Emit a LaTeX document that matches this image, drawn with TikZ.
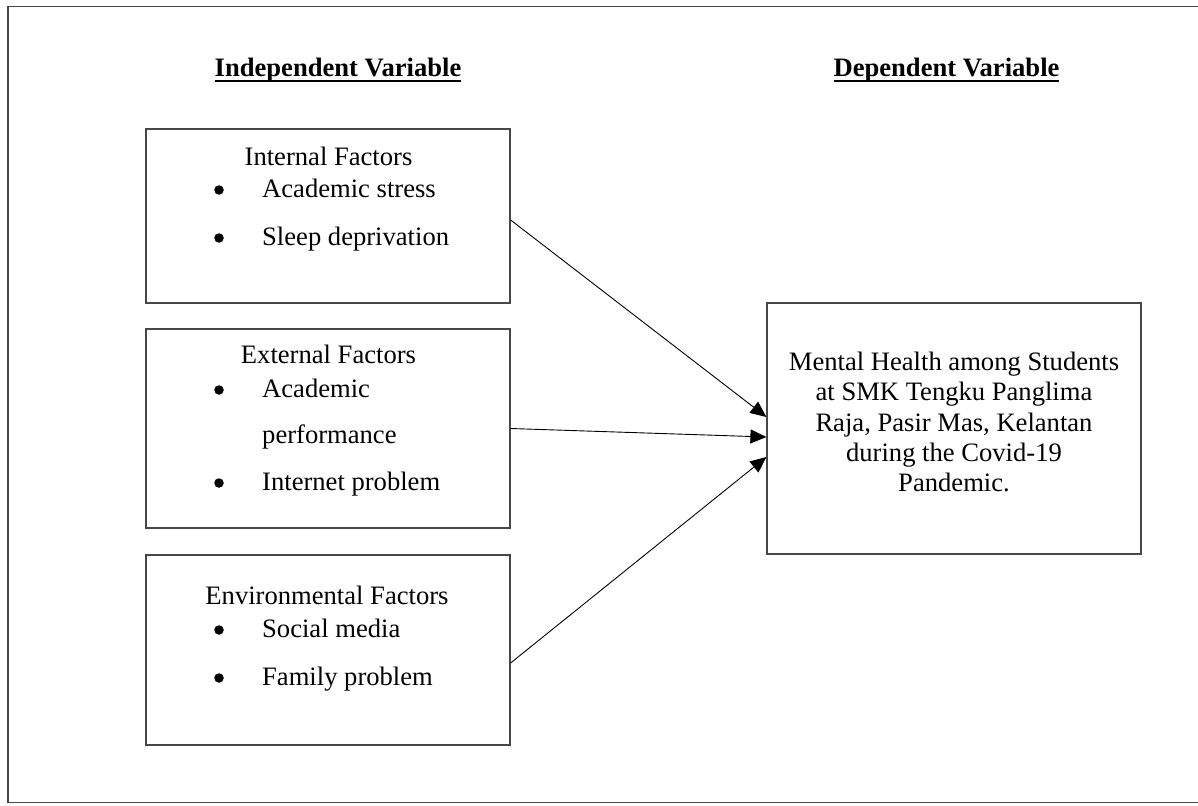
\documentclass[tikz,border=0pt]{standalone}
\usepackage{fontspec}
\setmainfont{Liberation Serif}
\usetikzlibrary{arrows.meta}

% bold heading with a heavy underline placed just under the baseline
\newcommand\headbar[1]{\setbox0\hbox{\bfseries #1}\rlap{\rule[-5pt]{\wd0}{2.3pt}}\box0}

\tikzset{
  txt/.style={font=\fontsize{26.6}{30.4}\selectfont, inner sep=0pt},
  dot/.style={circle, fill=black, inner sep=0pt, minimum size=9.5pt},
  factorbox/.style={draw=black!72, line width=1.2pt, minimum width=364pt, inner sep=0pt},
  frameline/.style={draw=black!72, line width=1.5pt},
  link/.style={draw=black, line width=0.9pt, -{Triangle[length=16pt,width=14pt]}},
}

\begin{document}
\begin{tikzpicture}[x=1pt,y=-1pt]
\useasboundingbox (0,0) rectangle (1198,805);
\fill[white] (0,0) rectangle (1198,805);

% outer frame
\draw[frameline] (8,6.5) rectangle (1201,802.5);

% headings
\node[txt, anchor=base] (indep) at (338,77) {\headbar{Independent Variable}};
\node[txt, anchor=base] (dep) at (946.5,77) {\headbar{Dependent Variable}};

% factor boxes
\node[factorbox, minimum height=174pt] (internal) at (328,216) {};
\node[factorbox, minimum height=199pt] (external) at (328,428.5) {};
\node[factorbox, minimum height=190pt] (environ) at (328,650) {};

% outcome box
\node[factorbox, minimum width=374pt, minimum height=251pt] (outcome) at (954,428.5) {};
\node[txt, align=center] (outcometext) at (954,422)
  {Mental Health among Students\\at SMK Tengku Panglima\\Raja, Pasir Mas, Kelantan\\during the Covid-19\\Pandemic.};

% internal factors
\node[txt, anchor=base] (intitle) at (328.5,165) {Internal Factors};
\node[dot] (inb1) at (219,190) {};
\node[txt, anchor=base west] (in1) at (262,197) {Academic stress};
\node[dot] (inb2) at (219,238) {};
\node[txt, anchor=base west] (in2) at (262,245) {Sleep deprivation};

% external factors
\node[txt, anchor=base] (extitle) at (328.5,363) {External Factors};
\node[dot] (exb1) at (219,390) {};
\node[txt, anchor=base west] (ex1) at (262,397) {Academic};
\node[txt, anchor=base west] (ex1b) at (262,443) {performance};
\node[dot] (exb2) at (219,483) {};
\node[txt, anchor=base west] (ex2) at (262,490) {Internet problem};

% environmental factors
\node[txt, anchor=base] (entitle) at (327,604) {Environmental Factors};
\node[dot] (enb1) at (219,630) {};
\node[txt, anchor=base west] (en1) at (262,637) {Social media};
\node[dot] (enb2) at (219,678) {};
\node[txt, anchor=base west] (en2) at (262,685) {Family problem};

% influences
\draw[link] ([yshift=-4pt]internal.east) -- ([yshift=11.5pt]outcome.west);
\draw[link] (external.east) -- ([yshift=-8.5pt]outcome.west);
\draw[link] ([yshift=-13pt]environ.east) -- ([yshift=-28.5pt]outcome.west);
\end{tikzpicture}
\end{document}
